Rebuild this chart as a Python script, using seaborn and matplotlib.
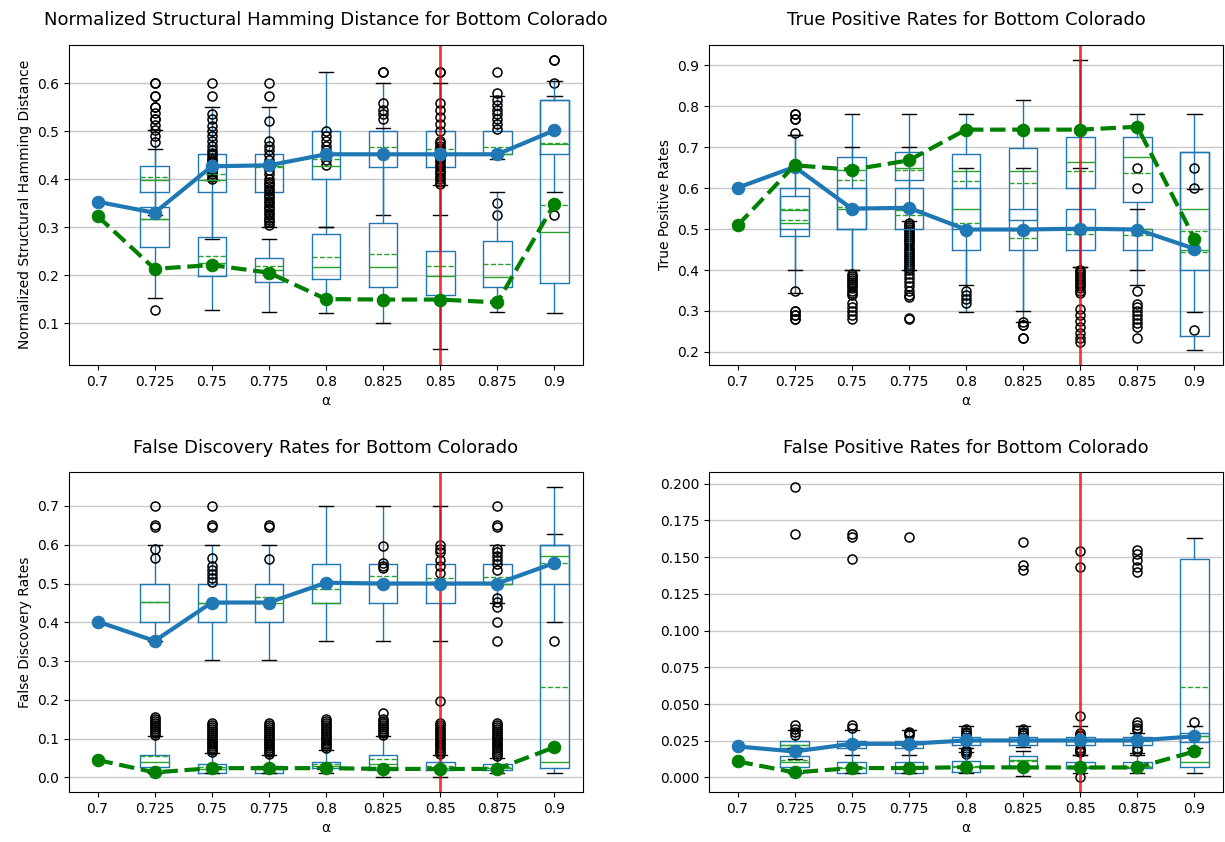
import matplotlib
matplotlib.use("Agg")
import matplotlib.pyplot as plt
import seaborn as sns
import pandas as pd

# ---------------- data ----------------
alphas = ["0.7", "0.725", "0.75", "0.775", "0.8", "0.825", "0.85", "0.875", "0.9"]
box_alphas = alphas[1:]
chosen_alpha = "0.85"
xlabel = "α"

# stats per box: (whislo, q1, median, q3, whishi, mean)
# ---- Normalized SHD ----
shd_title = "Normalized Structural Hamming Distance for Bottom Colorado"
shd_ylabel = "Normalized Structural Hamming Distance"
shd_ylim = (0.0125, 0.681)
shd_blue = [0.353, 0.330, 0.427, 0.429, 0.452, 0.452, 0.452, 0.452, 0.502]
shd_green = [0.323, 0.213, 0.221, 0.205, 0.150, 0.149, 0.149, 0.143, 0.349]
shd_upper = [(0.325, 0.374, 0.399, 0.427, 0.502, 0.405),
             (0.275, 0.374, 0.399, 0.452, 0.550, 0.410),
             (0.300, 0.374, 0.427, 0.452, 0.550, 0.425),
             (0.300, 0.400, 0.427, 0.500, 0.623, 0.443),
             (0.325, 0.425, 0.452, 0.500, 0.600, 0.467),
             (0.325, 0.425, 0.452, 0.500, 0.600, 0.464),
             (0.443, 0.452, 0.452, 0.500, 0.574, 0.467),
             (0.374, 0.452, 0.474, 0.565, 0.574, 0.476)]
shd_upper_fliers = [[0.526, 0.55, 0.574, 0.6],
                    [0.574, 0.6],
                    [0.574, 0.6],
                    [],
                    [0.623],
                    [0.623],
                    [0.325, 0.35],
                    [0.6, 0.648, 0.35, 0.325]]
shd_lower = [(0.152, 0.259, 0.316, 0.342, 0.464, 0.318),
             (0.128, 0.198, 0.225, 0.279, 0.398, 0.240),
             (0.124, 0.185, 0.211, 0.235, 0.275, 0.220),
             (0.121, 0.191, 0.216, 0.285, 0.300, 0.238),
             (0.100, 0.176, 0.216, 0.309, 0.506, 0.244),
             (0.045, 0.158, 0.198, 0.251, 0.387, 0.220),
             (0.124, 0.176, 0.196, 0.272, 0.374, 0.223),
             (0.121, 0.183, 0.290, 0.565, 0.605, 0.347)]
shd_lower_fliers = [[0.128, 0.477, 0.49, 0.502, 0.514, 0.526, 0.538, 0.55, 0.574, 0.6],
                    [0.40, 0.405, 0.41, 0.415, 0.42, 0.425, 0.43, 0.435, 0.44, 0.445,
                     0.45, 0.455, 0.46, 0.47, 0.48, 0.49, 0.50, 0.51, 0.525, 0.536],
                    [0.305, 0.31, 0.315, 0.32, 0.325, 0.33, 0.335, 0.34, 0.345, 0.35,
                     0.355, 0.36, 0.365, 0.37, 0.375, 0.38, 0.385, 0.39, 0.395, 0.40,
                     0.41, 0.42, 0.43, 0.44, 0.45, 0.46, 0.47, 0.48, 0.522],
                    [0.43, 0.44, 0.45, 0.46, 0.47, 0.48, 0.49, 0.50],
                    [0.525, 0.535, 0.545, 0.56, 0.623],
                    [0.39, 0.395, 0.40, 0.405, 0.41, 0.415, 0.42, 0.425, 0.43, 0.435,
                     0.44, 0.445, 0.45, 0.455, 0.46, 0.465, 0.47, 0.475, 0.48,
                     0.50, 0.515, 0.53, 0.545, 0.56, 0.623],
                    [0.505, 0.515, 0.525, 0.535, 0.545, 0.555, 0.565, 0.58, 0.623],
                    [0.648]]

# ---- TPR ----
tpr_title = "True Positive Rates for Bottom Colorado"
tpr_ylabel = "True Positive Rates"
tpr_ylim = (0.168, 0.951)
tpr_blue = [0.601, 0.652, 0.550, 0.552, 0.499, 0.499, 0.501, 0.499, 0.452]
tpr_green = [0.509, 0.656, 0.645, 0.668, 0.743, 0.743, 0.743, 0.750, 0.477]
tpr_upper = [(0.343, 0.483, 0.515, 0.581, 0.730, 0.523),
             (0.400, 0.500, 0.645, 0.675, 0.780, 0.621),
             (0.520, 0.619, 0.650, 0.688, 0.780, 0.644),
             (0.298, 0.500, 0.642, 0.683, 0.780, 0.617),
             (0.273, 0.523, 0.642, 0.697, 0.816, 0.613),
             (0.408, 0.600, 0.664, 0.725, 0.914, 0.642),
             (0.363, 0.566, 0.675, 0.725, 0.780, 0.637),
             (0.298, 0.400, 0.550, 0.688, 0.597, 0.496)]
tpr_upper_fliers = [[0.78, 0.77, 0.30, 0.29, 0.28],
                    [],
                    [0.515, 0.51, 0.505, 0.50, 0.495, 0.49, 0.485, 0.48, 0.475, 0.47,
                     0.465, 0.46, 0.455, 0.45, 0.445, 0.44, 0.435, 0.43, 0.425, 0.42,
                     0.415, 0.41, 0.405, 0.40, 0.39, 0.38, 0.37, 0.36, 0.35, 0.34,
                     0.335, 0.282],
                    [],
                    [0.265, 0.233],
                    [],
                    [],
                    [0.6, 0.649, 0.253]]
tpr_lower = [(0.400, 0.500, 0.546, 0.600, 0.730, 0.550),
             (0.400, 0.500, 0.550, 0.600, 0.700, 0.553),
             (0.400, 0.500, 0.546, 0.600, 0.700, 0.534),
             (0.363, 0.450, 0.549, 0.600, 0.649, 0.515),
             (0.300, 0.450, 0.499, 0.548, 0.649, 0.479),
             (0.408, 0.450, 0.499, 0.548, 0.649, 0.487),
             (0.400, 0.450, 0.500, 0.500, 0.548, 0.485),
             (0.204, 0.240, 0.450, 0.688, 0.780, 0.444)]
tpr_lower_fliers = [[0.78, 0.77, 0.735, 0.35, 0.30, 0.29, 0.28],
                    [0.39, 0.385, 0.38, 0.375, 0.37, 0.365, 0.36, 0.355, 0.35, 0.345,
                     0.34, 0.32, 0.31, 0.30, 0.29, 0.28],
                    [0.28],
                    [0.35, 0.34, 0.33, 0.32],
                    [0.273, 0.265, 0.233],
                    [0.40, 0.395, 0.39, 0.385, 0.38, 0.375, 0.37, 0.365, 0.36, 0.355,
                     0.35, 0.345, 0.306, 0.29, 0.275, 0.26, 0.245, 0.233, 0.225],
                    [0.6, 0.649, 0.35, 0.318, 0.31, 0.30, 0.29, 0.28, 0.27, 0.26, 0.233],
                    []]

# ---- FDR ----
fdr_title = "False Discovery Rates for Bottom Colorado"
fdr_ylabel = "False Discovery Rates"
fdr_ylim = (-0.0375, 0.7875)
fdr_blue = [0.402, 0.352, 0.451, 0.451, 0.502, 0.500, 0.500, 0.500, 0.553]
fdr_green = [0.045, 0.013, 0.024, 0.024, 0.024, 0.022, 0.022, 0.022, 0.078]
fdr_upper = [(0.352, 0.400, 0.453, 0.500, 0.600, 0.453),
             (0.302, 0.400, 0.449, 0.500, 0.600, 0.451),
             (0.302, 0.400, 0.451, 0.500, 0.600, 0.466),
             (0.352, 0.451, 0.451, 0.550, 0.700, 0.485),
             (0.352, 0.451, 0.500, 0.550, 0.700, 0.520),
             (0.352, 0.451, 0.500, 0.550, 0.700, 0.514),
             (0.451, 0.500, 0.500, 0.550, 0.600, 0.516),
             (0.400, 0.500, 0.572, 0.600, 0.628, 0.553)]
fdr_upper_fliers = [[0.7, 0.65, 0.645, 0.59, 0.565],
                    [0.7, 0.65, 0.645, 0.565, 0.544, 0.535, 0.525, 0.515, 0.505],
                    [0.65, 0.645, 0.562],
                    [],
                    [0.597, 0.553, 0.545, 0.54],
                    [0.6, 0.59, 0.58, 0.56, 0.545, 0.527],
                    [0.7, 0.65, 0.645, 0.59, 0.58, 0.57, 0.56, 0.55, 0.535,
                     0.462, 0.452, 0.44, 0.4, 0.352],
                    [0.352]]
fdr_lower = [(0.011, 0.026, 0.041, 0.058, 0.107, 0.056),
             (0.011, 0.011, 0.021, 0.035, 0.064, 0.028),
             (0.011, 0.011, 0.021, 0.030, 0.058, 0.024),
             (0.011, 0.024, 0.030, 0.041, 0.071, 0.035),
             (0.000, 0.020, 0.035, 0.058, 0.106, 0.047),
             (0.000, 0.020, 0.024, 0.039, 0.058, 0.030),
             (0.011, 0.020, 0.024, 0.035, 0.051, 0.028),
             (0.011, 0.024, 0.039, 0.600, 0.750, 0.233)]
fdr_lower_fliers = [[0.11, 0.115, 0.12, 0.125, 0.13, 0.135, 0.14, 0.145, 0.15, 0.155],
                    [0.065, 0.07, 0.075, 0.08, 0.085, 0.09, 0.095, 0.10, 0.105, 0.11,
                     0.115, 0.12, 0.125, 0.13, 0.135, 0.14],
                    [0.06, 0.065, 0.07, 0.075, 0.08, 0.085, 0.09, 0.095, 0.10, 0.105,
                     0.11, 0.115, 0.12, 0.125, 0.13, 0.135, 0.14],
                    [0.075, 0.08, 0.085, 0.09, 0.095, 0.10, 0.105, 0.11, 0.115, 0.12,
                     0.125, 0.13, 0.135, 0.14, 0.145, 0.15],
                    [0.11, 0.115, 0.12, 0.125, 0.13, 0.135, 0.14, 0.145, 0.15, 0.166],
                    [0.06, 0.065, 0.07, 0.075, 0.08, 0.085, 0.09, 0.095, 0.10, 0.105,
                     0.11, 0.115, 0.12, 0.125, 0.13, 0.135, 0.14, 0.196],
                    [0.055, 0.06, 0.065, 0.07, 0.075, 0.08, 0.085, 0.09, 0.095, 0.10,
                     0.105, 0.11, 0.115, 0.12, 0.125, 0.13, 0.135, 0.14],
                    []]

# ---- FPR ----
fpr_title = "False Positive Rates for Bottom Colorado"
fpr_ylabel = ""
fpr_ylim = (-0.0099, 0.208)
fpr_blue = [0.0211, 0.0177, 0.0229, 0.0229, 0.0252, 0.0252, 0.0252, 0.0252, 0.0280]
fpr_green = [0.0109, 0.0034, 0.0064, 0.0064, 0.0070, 0.0068, 0.0068, 0.0068, 0.0177]
fpr_upper = [(0.0125, 0.0200, 0.0222, 0.0245, 0.0320, 0.0222),
             (0.0155, 0.0200, 0.0229, 0.0245, 0.0320, 0.0225),
             (0.0155, 0.0200, 0.0229, 0.0245, 0.0320, 0.0225),
             (0.0170, 0.0223, 0.0252, 0.0275, 0.0350, 0.0250),
             (0.0210, 0.0218, 0.0252, 0.0275, 0.0350, 0.0250),
             (0.0155, 0.0218, 0.0252, 0.0275, 0.0350, 0.0250),
             (0.0166, 0.0218, 0.0252, 0.0275, 0.0300, 0.0250),
             (0.0200, 0.0240, 0.0280, 0.0300, 0.0350, 0.0280)]
fpr_upper_fliers = [[0.198, 0.166, 0.036, 0.033, 0.031, 0.029],
                    [0.166, 0.164, 0.149, 0.036, 0.034],
                    [0.164, 0.031, 0.030, 0.029],
                    [0.033, 0.031, 0.030, 0.029, 0.019, 0.018, 0.017, 0.016],
                    [0.160, 0.145, 0.141, 0.033, 0.031, 0.030, 0.029],
                    [0.154, 0.143, 0.0416, 0.030, 0.029, 0.028, 0.020, 0.019, 0.018, 0.017],
                    [0.155, 0.152, 0.148, 0.143, 0.140, 0.038, 0.036, 0.034, 0.032, 0.020, 0.018],
                    [0.038]]
fpr_lower = [(0.0030, 0.0070, 0.0102, 0.0143, 0.0200, 0.0120),
             (0.0030, 0.0030, 0.0064, 0.0102, 0.0216, 0.0070),
             (0.0030, 0.0030, 0.0064, 0.0102, 0.0216, 0.0070),
             (0.0030, 0.0040, 0.0068, 0.0109, 0.0200, 0.0075),
             (0.0007, 0.0080, 0.0118, 0.0143, 0.0177, 0.0109),
             (0.0030, 0.0064, 0.0068, 0.0102, 0.0155, 0.0080),
             (0.0030, 0.0064, 0.0068, 0.0102, 0.0155, 0.0080),
             (0.0030, 0.0070, 0.0102, 0.1490, 0.1630, 0.0615)]
fpr_lower_fliers = [[], [], [], [], [], [0.0], [], []]

panels = [
    dict(title=shd_title, ylabel=shd_ylabel, ylim=shd_ylim, blue=shd_blue, green=shd_green,
         boxes=[(shd_upper, shd_upper_fliers), (shd_lower, shd_lower_fliers)]),
    dict(title=tpr_title, ylabel=tpr_ylabel, ylim=tpr_ylim, blue=tpr_blue, green=tpr_green,
         boxes=[(tpr_upper, tpr_upper_fliers), (tpr_lower, tpr_lower_fliers)]),
    dict(title=fdr_title, ylabel=fdr_ylabel, ylim=fdr_ylim, blue=fdr_blue, green=fdr_green,
         boxes=[(fdr_upper, fdr_upper_fliers), (fdr_lower, fdr_lower_fliers)]),
    dict(title=fpr_title, ylabel=fpr_ylabel, ylim=fpr_ylim, blue=fpr_blue, green=fpr_green,
         boxes=[(fpr_upper, fpr_upper_fliers), (fpr_lower, fpr_lower_fliers)]),
]

# ---------------- drawing ----------------
W, H = 1225, 842
fig = plt.figure(figsize=(W / 100, H / 100), dpi=100)
ax_rects_px = [(69, 44.5, 514, 320.5), (709, 44.5, 514, 320.5),
               (69, 472, 514, 320), (709, 472, 514, 320)]

positions = list(range(1, len(alphas) + 1))
box_positions = [alphas.index(a) + 1 for a in box_alphas]
red_pos = alphas.index(chosen_alpha) + 1

BOX_BLUE = "#1f77b4"
MED_GREEN = "#2ca02c"

for p, (x0, y0, w, h) in zip(panels, ax_rects_px):
    ax = fig.add_axes([x0 / W, 1 - (y0 + h) / H, w / W, h / H])
    ax.yaxis.grid(True, color="#c8c8c8", linewidth=1.0)
    ax.set_axisbelow(True)

    for stats_list, fliers_list in p["boxes"]:
        stats = [dict(whislo=s[0], q1=s[1], med=s[2], q3=s[3], whishi=s[4], mean=s[5],
                      fliers=f) for s, f in zip(stats_list, fliers_list)]
        ax.bxp(stats, positions=box_positions, widths=0.5, showmeans=True, meanline=True,
               manage_ticks=False,
               boxprops=dict(color=BOX_BLUE, linewidth=1.0),
               whiskerprops=dict(color=BOX_BLUE, linewidth=1.0),
               capprops=dict(color="black", linewidth=1.0),
               medianprops=dict(color=MED_GREEN, linewidth=1.0),
               meanprops=dict(color=MED_GREEN, linestyle="--", linewidth=1.0),
               flierprops=dict(marker="o", markerfacecolor="none",
                               markeredgecolor="black", markersize=6.5,
                               markeredgewidth=1.1))

    ax.axvline(red_pos, color="red", alpha=0.8, linewidth=2, zorder=2.5)

    df = pd.DataFrame({"pos": positions, "blue": p["blue"], "green": p["green"]})
    sns.lineplot(data=df, x="pos", y="blue", ax=ax, color="#1f77b4", linewidth=3,
                 marker="o", markersize=9, markeredgecolor="#1f77b4", zorder=4)
    sns.lineplot(data=df, x="pos", y="green", ax=ax, color="green", linewidth=3,
                 linestyle="--", marker="o", markersize=9, markeredgecolor="green",
                 zorder=4)

    ax.set_xlim(0.5, len(alphas) + 0.5)
    ax.set_xticks(positions)
    ax.set_xticklabels(alphas)
    ax.set_ylim(*p["ylim"])
    ax.set_xlabel(xlabel)
    ax.set_ylabel(p["ylabel"])
    ax.set_title(p["title"], fontsize=13, pad=14)

fig.savefig("out.png", dpi=100)
